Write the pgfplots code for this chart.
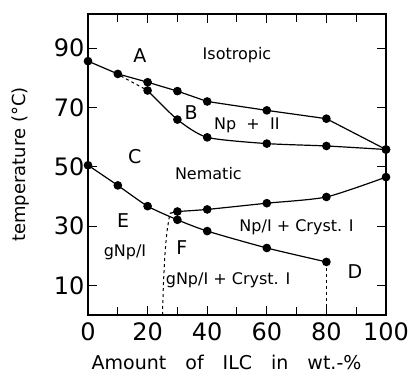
\documentclass[border=0pt]{standalone}
\usepackage{fontspec}
\setmainfont{DejaVu Sans}
\usepackage{pgfplots}
\pgfplotsset{compat=1.18}
\begin{document}
\begin{tikzpicture}
\begin{axis}[
  scale only axis,
  width=298pt, height=301pt,
  xmin=0, xmax=100, ymin=0, ymax=101.5,
  xtick={0,20,...,100}, minor xtick={10,30,...,90},
  ytick={10,30,...,90},
  tick align=inside,
  major tick length=9pt, minor tick length=8pt,
  every tick/.style={line width=1pt, black},
  axis line style={line width=1.3pt},
  /pgf/number format/assume math mode=true,
  tick label style={font=\fontsize{24}{24}\selectfont},
  xticklabel style={yshift=-4pt},
  xlabel={Amount\hspace{1em}of\hspace{1em}ILC\hspace{1em}in\hspace{1em}wt.-\%},
  ylabel={temperature (°C)},
  label style={font=\fontsize{19}{19}\selectfont},
  ylabel style={font=\fontsize{18}{18}\selectfont},
  xlabel style={at={(axis description cs:0.465,0)}, anchor=center, yshift=-47pt},
  ylabel style={at={(axis description cs:-0.228,0.5)}, anchor=center},
  clip=false,
]
% upper (isotropic) boundary
\addplot[black, line width=1.2pt, mark=*, mark size=3.7pt] coordinates {
 (0,85.6) (10,81.3) (20,78.5) (30,75.5) (40,72.0) (60,69.0) (80,66.2) (100,55.8)};
% lower boundary of Np + I region
\addplot[black, line width=1.2pt, mark=*, mark size=3.7pt, smooth, tension=0.4] coordinates {
 (20,75.7) (30,65.9) (40,59.9) (60,57.8) (80,57.0) (100,55.8)};
\addplot[black, line width=1pt, dashed] coordinates {(11,80.6) (20,75.7)};
% nematic / glass boundary
\addplot[black, line width=1.2pt, mark=*, mark size=3.7pt, smooth, tension=0.4] coordinates {
 (0,50.5) (10,43.7) (20,36.7) (30,32.1) (40,28.3) (60,22.6) (80,17.9)};
% Np/I + cryst boundary
\addplot[black, line width=1.2pt] coordinates {(27.5,34.3) (30,34.9)};
\addplot[black, line width=1.2pt, mark=*, mark size=3.7pt, smooth, tension=0.4] coordinates {
 (30,34.9) (40,35.6) (60,37.7) (80,39.8) (100,46.5)};
% dashed boundaries
\addplot[black, line width=1pt, dashed, smooth] coordinates {
 (25,0) (25.3,10) (25.8,20) (26.5,28) (27.5,34.3)};
\addplot[black, line width=1pt, dashed] coordinates {(80,17.9) (80,0)};
% region labels
\node[font=\fontsize{19}{19}\selectfont] at (axis cs:17.4,87.5) {A};
\node[font=\fontsize{16}{16}\selectfont] at (axis cs:50,87.5) {Isotropic};
\node[font=\fontsize{19}{19}\selectfont] at (axis cs:34.6,68.4) {B};
\node[font=\fontsize{16}{16}\selectfont] at (axis cs:53.3,63.9) {Np\ \ +\ \ II};
\node[font=\fontsize{19}{19}\selectfont] at (axis cs:15.7,53.3) {C};
\node[font=\fontsize{16}{16}\selectfont] at (axis cs:40.4,47.7) {Nematic};
\node[font=\fontsize{19}{19}\selectfont] at (axis cs:11.8,31.9) {E};
\node[font=\fontsize{16}{16}\selectfont] at (axis cs:12.4,21.2) {gNp/I};
\node[font=\fontsize{19}{19}\selectfont] at (axis cs:31.5,22.9) {F};
\node[font=\fontsize{16}{16}\selectfont] at (axis cs:70,29.6) {Np/I + Cryst. I};
\node[font=\fontsize{16}{16}\selectfont] at (axis cs:47,11.7) {gNp/I + Cryst. I};
\node[font=\fontsize{19}{19}\selectfont] at (axis cs:89.6,14.5) {D};
\path (rel axis cs:0,0) ++(-88pt,-60pt);
\path (rel axis cs:1,1) ++(27pt,14pt);
\end{axis}
\end{tikzpicture}
\end{document}
